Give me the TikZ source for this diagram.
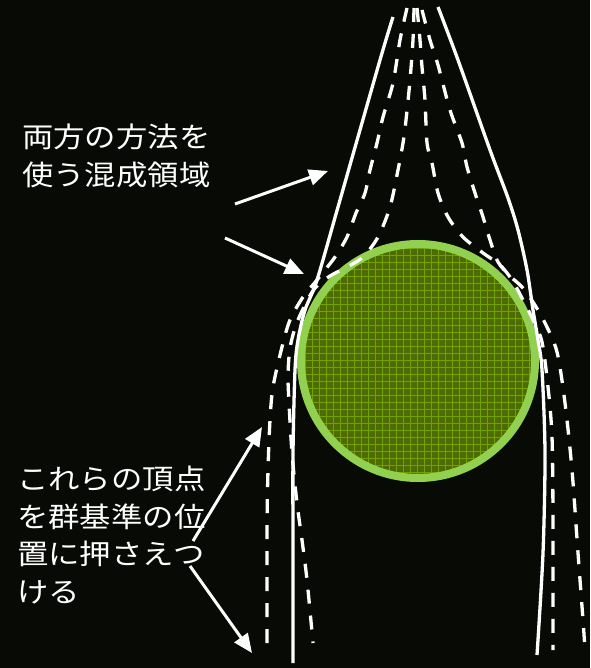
\documentclass[tikz,border=0pt]{standalone}
\usepackage{fontspec}
\newfontfamily\jpfont[FakeStretch=1.12]{Noto Sans CJK JP}
\usetikzlibrary{arrows.meta}
\definecolor{bg}{HTML}{080A06}
\definecolor{ringgreen}{HTML}{92D050}
\definecolor{olivefill}{HTML}{4C6C00}
\definecolor{gridgreen}{HTML}{73A200}
\begin{document}
\begin{tikzpicture}[x=1pt,y=-1pt,
  curve/.style={white, line width=3.3pt, line join=round},
  dashcurve/.style={curve, dash pattern=on 14pt off 12pt},
  pointer/.style={white, line width=3pt, -{Triangle[length=19pt,width=16pt]}},
  label/.style={text=white, font=\jpfont\fontsize{28}{37.5}\selectfont, align=left, anchor=north west, inner sep=0pt}]
\fill[bg] (0,0) rectangle (590,668);
\useasboundingbox (0,0) rectangle (590,668);

% circle with grid fill
\coordinate (cc) at (418,361);
\begin{scope}
  \clip (cc) circle[radius=117pt];
  \fill[olivefill] (cc) circle[radius=117pt];
  \foreach \i in {0,...,35} {
    \draw[gridgreen, line width=1pt] (298+\i*7,240) -- ++(0,245);
    \draw[gridgreen, line width=1pt] (298,241+\i*7) -- ++(245,0);
  }
\end{scope}
\draw[ringgreen, line width=8pt] (cc) circle[radius=117pt];

% solid envelopes
\draw[curve] plot[smooth, tension=0.5] coordinates {(393,17) (380,60) (340,200) (317,280) (305,310) (298,340) (295,370) (293,453) (293,560) (293,663)};
\draw[curve] plot[smooth, tension=0.5] coordinates {(438,7) (458,60) (490,150) (508,198) (518,230) (527,270) (533,310) (538,340) (542,370) (545,453) (543,553) (537,655)};

% dashed curves
\draw[dashcurve] plot[smooth, tension=0.5] coordinates {(407,8) (400,40) (393,83) (383,117) (377,143) (370,170) (365,193) (356,213) (347,237) (335,257) (317,280) (303,297) (290,320) (282,347) (273,387) (270,420) (268,470) (267,530) (267,655)};
\draw[dashcurve] plot[smooth, tension=0.5] coordinates {(414,8) (413,40) (410,80) (406,120) (403,143) (398,170) (390,207) (378,237) (363,257) (347,267) (330,276) (315,288) (305,305) (296,325) (290,348) (288,375) (289,403) (292,453) (297,503) (302,540) (307,580) (313,643)};
\draw[dashcurve] plot[smooth, tension=0.5] coordinates {(417,8) (420,40) (422,67) (425,100) (427,143) (432,163) (438,193) (448,217) (463,237) (483,253) (500,265) (512,280) (523,300) (533,320) (542,342) (548,387) (552,437) (553,520) (553,650)};
\draw[dashcurve] plot[smooth, tension=0.5] coordinates {(422,10) (430,40) (438,65) (450,110) (462,143) (467,167) (475,193) (483,217) (490,240) (498,262) (510,276) (522,287) (533,302) (545,323) (557,352) (565,403) (572,470) (578,553) (583,620) (585,650)};

% labels
\node[label] (mixed) at (22,124) {両方の方法を\\使う混成領域};
\node[label] (fixed) at (17,466) {これらの頂点\\を群基準の位\\置に押さえつ\\ける};

% pointers
\coordinate (p1s) at (235,204);
\coordinate (p1e) at (328,171);
\coordinate (p2s) at (225,238);
\coordinate (p2e) at (304,274);
\coordinate (p3s) at (193,541);
\coordinate (p3e) at (262,427);
\coordinate (p4s) at (190,566);
\coordinate (p4e) at (252,653);
\draw[pointer] (p1s) -- (p1e);
\draw[pointer] (p2s) -- (p2e);
\draw[pointer] (p3s) -- (p3e);
\draw[pointer] (p4s) -- (p4e);
\end{tikzpicture}
\end{document}
